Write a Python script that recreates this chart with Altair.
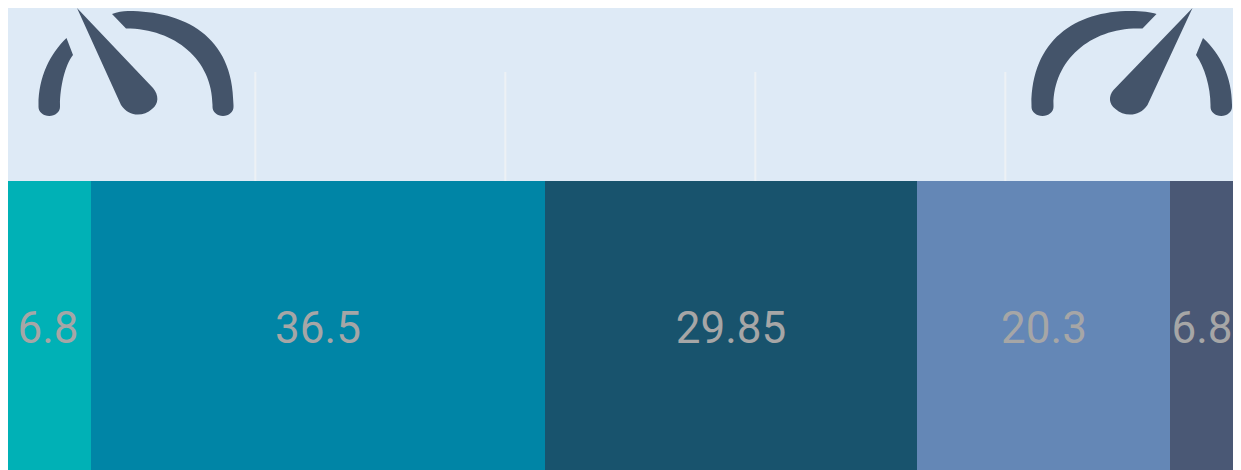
import altair as alt
import pandas as pd

segments = ["a", "b", "c", "d", "e"]
values = [6.8, 36.5, 29.85, 20.3, 6.8]
labels = ["6.8", "36.5", "29.85", "20.3", "6.8"]
colors = ["#00b1b6", "#0085a6", "#18536d", "#6487b6", "#4a5875"]
grid_values = [0, 20, 40, 60, 80]

BG = "#deeaf6"
ICON = "#44546a"

GAUGE_LEFT = (
    "M-23 -48 C-18 -50 -12 -51 -7 -51 C48 -51 98.5 -27 98.5 43 L98.5 45 "
    "A10.5 9 0 0 1 77.5 45 L77.5 43 C77.5 -2 40 -33.5 -9 -33.5 Z "
    "M-68.5 -24 L-62 -7 C-70 3 -75 25 -75 43 L-75 45 A10.75 9 0 0 1 -96.5 45 "
    "L-96.5 43 C-96.5 15 -85 -8 -68.5 -24 Z "
    "M-58 -54 L18 26 C24 33 24 42 17 47 C8 55 -6 55 -14 43 Z"
)
GAUGE_RIGHT = (
    "M24 -48 C18 -50 10 -51 -2 -51 C-57 -51 -101 -22 -101 43 L-101 45 "
    "A11 9 0 0 0 -79 45 L-79 43 C-79 -2 -42 -33.5 5 -33.5 L10 -33.5 Z "
    "M70.5 -24 L63.5 -7 C72 5 78 25 78 43 L78 45 A10.75 9 0 0 0 99.5 45 "
    "L99.5 43 C99.5 15 88 -8 70.5 -24 Z "
    "M60 -54 L-19 28 C-24 34 -24 42 -17 47 C-8 55 7 55 15 43 Z"
)

df = pd.DataFrame({"seg": segments, "v": values, "label": labels,
                   "order": list(range(len(values)))})
grid_df = pd.DataFrame({"g": grid_values})
one = pd.DataFrame({"n": [0]})

bar_scale = alt.Scale(domain=[0.16, 98.48], nice=False, zero=False, round=True)
grid_scale = alt.Scale(domain=[0.216, 98.216], nice=False, zero=False)

stacked = alt.Chart(df).transform_stack(
    stack="v", groupby=[], as_=["x0", "x1"], sort=[alt.SortField("order")]
).transform_calculate(mid="min((datum.x0 + datum.x1) / 2, 96.0)")

bars = stacked.mark_bar(clip=True, strokeWidth=0).encode(
    x=alt.X("x0:Q", scale=bar_scale, axis=None),
    x2="x1:Q",
    y=alt.value(173),
    y2=alt.value(480),
    color=alt.Color("seg:N", scale=alt.Scale(domain=segments, range=colors), legend=None),
)
texts = stacked.mark_text(
    font="Roboto", fontSize=44, color="#a6a6a6",
    align="center", baseline="middle",
).encode(
    x=alt.X("mid:Q", scale=bar_scale, axis=None),
    y=alt.value(322),
    text="label:N",
)
grid = alt.Chart(grid_df).mark_rule(color="#edf1f5", strokeWidth=2, clip=True).encode(
    x=alt.X("g:Q", scale=grid_scale, axis=None),
    y=alt.value(64),
    y2=alt.value(173),
)
icon_l = alt.Chart(one).mark_point(
    shape=GAUGE_LEFT, size=4, filled=True, color=ICON, opacity=1, strokeWidth=0
).encode(x=alt.value(127), y=alt.value(54))
icon_r = alt.Chart(one).mark_point(
    shape=GAUGE_RIGHT, size=4, filled=True, color=ICON, opacity=1, strokeWidth=0
).encode(x=alt.value(1124.5), y=alt.value(54))

chart = (
    alt.layer(grid, bars + texts, icon_l, icon_r)
    .resolve_scale(x="independent")
    .properties(width=1225, height=462, padding=0, background=BG,
                autosize=alt.AutoSizeParams(type="none"))
    .configure_view(stroke=None)
)
chart.save("out.html", embed_options={"renderer": "svg", "actions": False})
